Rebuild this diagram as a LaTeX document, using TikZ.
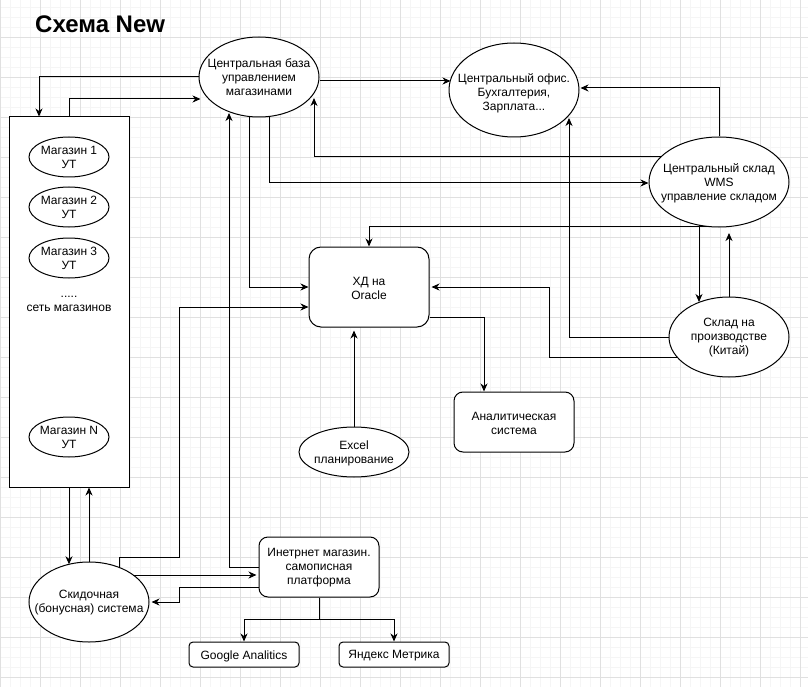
\documentclass[tikz,border=0pt]{standalone}
\usepackage{fontspec}
\setmainfont{Liberation Sans}
\usetikzlibrary{shapes.geometric,arrows.meta,calc}
\begin{document}
\begin{tikzpicture}[x=1pt,y=-1pt,
  every node/.style={font=\fontsize{12}{14}\selectfont, align=center, inner sep=0pt, text=black},
  ell/.style={draw, ellipse, fill=white, line width=1pt},
  rbox/.style={draw, rounded corners=#1, fill=white, line width=1pt},
  rbox/.default=12pt,
  sbox/.style={draw, fill=white, line width=1pt},
  arr/.style={-{Stealth[length=8pt,width=7pt,inset=2.5pt]}, line width=1pt},
  gmin/.style={draw=black!4, line width=0.7pt},
  gmaj/.style={draw=black!12, line width=0.8pt}]
\useasboundingbox (0,0) rectangle (808,687);
\fill[white] (0,0) rectangle (808,687);
% grid
\foreach \x in {0,10,...,800} \draw[gmin] (\x,0) -- (\x,687);
\foreach \y in {7.5,17.5,...,687} \draw[gmin] (0,\y) -- (808,\y);
\foreach \x in {0,40,...,800} \draw[gmaj] (\x,0) -- (\x,687);
\foreach \y in {37.5,77.5,...,687} \draw[gmaj] (0,\y) -- (808,\y);

% title
\node[anchor=base west, font=\fontsize{24}{27}\selectfont\bfseries] (title) at (35,33) {Схема New};

% shapes
\node[ell, minimum width=120pt, minimum height=80pt] (cb) at (259,77) {};
\node[sbox, minimum width=120pt, minimum height=370pt] (stores) at (69,302) {};
\node[ell, minimum width=80pt, minimum height=40pt] (s1) at (69,157) {};
\node[ell, minimum width=80pt, minimum height=40pt] (s2) at (69,207) {};
\node[ell, minimum width=80pt, minimum height=40pt] (s3) at (69,258) {};
\node[ell, minimum width=80pt, minimum height=40pt] (sn) at (69,437) {};
\node[ell, minimum width=130pt, minimum height=94pt] (office) at (514,90) {};
\node[ell, minimum width=140pt, minimum height=90pt] (cw) at (719,182) {};
\node[ell, minimum width=120pt, minimum height=80pt] (china) at (729,337) {};
\node[rbox, minimum width=120pt, minimum height=80pt] (dwh) at (369,287) {};
\node[rbox=9pt, minimum width=120pt, minimum height=60pt] (anal) at (514,422) {};
\node[ell, minimum width=110pt, minimum height=50pt] (excel) at (354,452) {};
\node[rbox=9pt, minimum width=120pt, minimum height=60pt] (shop) at (319,567) {};
\node[ell, minimum width=120pt, minimum height=80pt] (disc) at (89,602) {};
\node[rbox=4pt, minimum width=110pt, minimum height=25pt] (ga) at (244,654.5) {};
\node[rbox=4pt, minimum width=110pt, minimum height=25pt] (ym) at (394,654.5) {};

% texts
\node (cbt) at (259,77.5) {Центральная база\\управлением\\магазинами};
\node (s1t) at (69,157.5) {Магазин 1\\УТ};
\node (s2t) at (69,207.5) {Магазин 2\\УТ};
\node (s3t) at (69,258.5) {Магазин 3\\УТ};
\node (dots) at (69,304) {.....\\сеть магазинов};
\node (snt) at (69,437.5) {Магазин N\\УТ};
\node (officet) at (514,93) {Центральный офис.\\Бухгалтерия,\\Зарплата...};
\node (cwt) at (719,183) {Центральный склад\\WMS\\управление складом};
\node (chinat) at (729,338) {Склад на\\производстве\\(Китай)};
\node (dwht) at (369,288) {ХД на\\Oracle};
\node (analt) at (514,423) {Аналитическая\\система};
\node (excelt) at (354,453) {Excel\\планирование};
\node (shopt) at (319,568) {Инетрнет магазин.\\самописная\\платформа};
\node (disct) at (89,603) {Скидочная\\(бонусная) система};
\node (gat) at (244,656) {Google Analitics};
\node (ymt) at (394,656) {Яндекс Метрика};

% connectors
\draw[arr] (cb.west) -| ($(stores.north)+(-30,0)$);
\draw[arr] (stores.north) |- ($(cb.west)+(2,22)$);
\draw[arr] ($(cb.east)+(0,4)$) -- ($(office.west)+(2,-9)$);
\draw[arr] ($(cw)+(-57,-25)$) -| ($(cb)+(55,21)$);
\draw[arr] ($(cb)+(10,40)$) |- ($(cw.west)+(0,1)$);
\draw[arr] ($(cb)+(-10,40)$) |- (dwh.west);
\draw[arr] (shop.west) -| ($(cb)+(-30,36)$);
\draw[arr] ($(disc)+(30,-34.6)$) |- ($(disc)+(90,-45)$) |- ($(dwh.west)+(0,20)$);
\draw[arr] (stores.south) -- ($(disc)+(-20,-37.7)$);
\draw[arr] (disc.north) -- ($(stores.south)+(20,0)$);
\draw[arr] ($(disc)+(44,-27)$) -- ($(shop.west)+(-2,8)$);
\draw[arr] ($(shop.west)+(0,20)$) -| ($(disc.east)+(30,0)$) -- ($(disc.east)+(2,0)$);
\draw[arr] (shop.south) -- ++(0,22) -| (ga.north);
\draw[arr] (shop.south) -- ++(0,22) -| (ym.north);
\draw[arr] (excel.north) -- ($(dwh.south)+(-15,3)$);
\draw[arr] ($(dwh.east)+(0,30)$) -| ($(anal.north)+(-30,0)$);
\draw[arr] ($(china)+(-52,20)$) -| ($(dwh.east)+(120,0)$) -- ($(dwh.east)+(2,0)$);
\draw[arr] ($(cw)+(-9,44.6)$) -| (dwh.north);
\draw[arr] (china.west) -| ($(office)+(55,28)$);
\draw[arr] (cw.north) |- ($(office.east)+(1,-2)$);
\draw[arr] ($(cw)+(-20,43)$) -- ($(china)+(-30,-35)$);
\draw[arr] (china.north) -- ($(cw)+(10,51)$);
\end{tikzpicture}
\end{document}
